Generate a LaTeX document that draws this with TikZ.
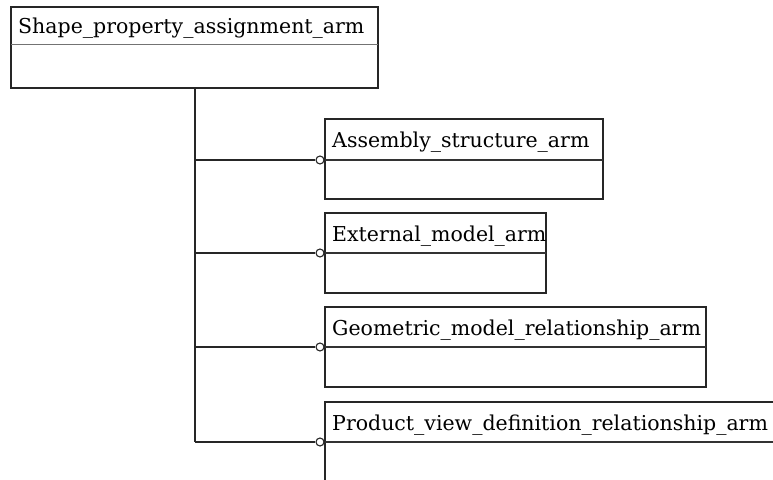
\documentclass[tikz,border=0pt]{standalone}
\usepackage{fontspec}
\setmainfont{DejaVu Serif}
\begin{document}
\begin{tikzpicture}[x=1pt,y=-1pt,
  box/.style={draw=black!85, line width=1.3pt, anchor=north west, inner sep=0pt, outer sep=0pt, fill=white},
  lbl/.style={anchor=base west, inner sep=0pt, font=\fontsize{20.5}{23}\selectfont},
  div/.style={draw=black!80, line width=1.2pt},
  conn/.style={draw=black!85, line width=1.3pt},
  ring/.style={draw=black!85, line width=1.1pt, fill=white, circle, inner sep=0pt, minimum size=8pt}]
\clip (0,0) rectangle (773,479);
\useasboundingbox (0,0) rectangle (773,479);
% top box
\node[box, minimum width=367pt, minimum height=81pt] (top) at (11,7) {};
\node[lbl] (toplbl) at (18,33) {Shape\_property\_assignment\_arm};
\draw[div, draw=black!55, line width=0.9pt] ([yshift=-37pt]top.north west) -- ([yshift=-37pt]top.north east);
% boxes
\node[box, minimum width=278pt, minimum height=80pt] (b1) at (325,119) {};
\node[lbl] (b1l) at (332,147) {Assembly\_structure\_arm};
\draw[div] ([yshift=-41pt]b1.north west) -- ([yshift=-41pt]b1.north east);
\node[box, minimum width=221pt, minimum height=80pt] (b2) at (325,213) {};
\node[lbl] (b2l) at (332,241) {External\_model\_arm};
\draw[div] ([yshift=-40pt]b2.north west) -- ([yshift=-40pt]b2.north east);
\node[box, minimum width=381pt, minimum height=80pt] (b3) at (325,307) {};
\node[lbl] (b3l) at (332,335) {Geometric\_model\_relationship\_arm};
\draw[div] ([yshift=-40pt]b3.north west) -- ([yshift=-40pt]b3.north east);
\node[box, minimum width=470pt, minimum height=100pt] (b4) at (325,402) {};
\node[lbl] (b4l) at (332,430) {Product\_view\_definition\_relationship\_arm};
\draw[div] ([yshift=-40pt]b4.north west) -- ([yshift=-40pt]b4.north east);
% connectors
\coordinate (tj) at (195,88);
\coordinate (j1) at (195,160);
\coordinate (j2) at (195,253);
\coordinate (j3) at (195,347);
\coordinate (j4) at (195,442);
\draw[conn] (tj) -- (j4);
\node[ring] (r1) at (320,160) {};
\node[ring] (r2) at (320,253) {};
\node[ring] (r3) at (320,347) {};
\node[ring] (r4) at (320,442) {};
\draw[conn] (j1) -- (r1.west);
\draw[conn] (j2) -- (r2.west);
\draw[conn] (j3) -- (r3.west);
\draw[conn] (j4) -- (r4.west);
\end{tikzpicture}
\end{document}
